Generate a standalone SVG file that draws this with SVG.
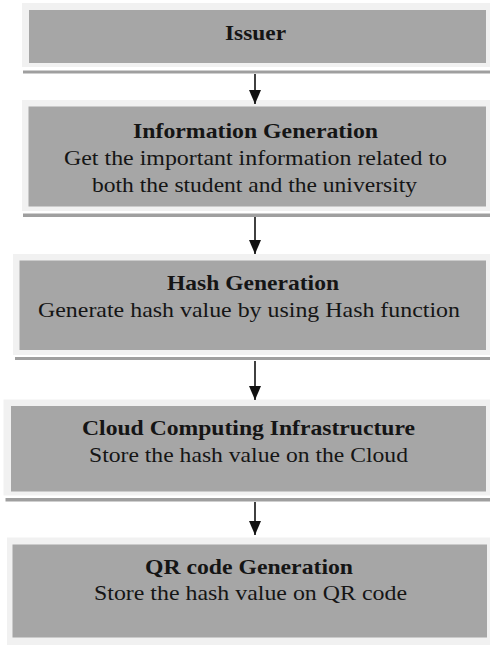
<svg xmlns="http://www.w3.org/2000/svg" width="490" height="645" viewBox="0 0 490 645">
<defs>
<marker id="ah" viewBox="0 0 14 12" markerWidth="14" markerHeight="12" refX="14" refY="6" orient="auto" markerUnits="userSpaceOnUse">
<path d="M0,0 L14,6 L0,12 z" fill="#111"/>
</marker>
</defs>
<style>
.outer{fill:#f1f1f1}
.inner{fill:#a6a6a6}
.shadow{fill:#9f9f9f}
.t{font-family:"Liberation Serif","Times New Roman",serif;font-size:21px;fill:#151515}
.b{font-weight:bold}
.conn{stroke:#111;stroke-width:1.6;fill:none;marker-end:url(#ah)}
</style>
<rect width="490" height="645" fill="#ffffff"/>
<g id="issuer">
<rect class="shadow" x="23" y="70.5" width="467" height="3"/>
<rect class="outer" x="22" y="3" width="468" height="64"/>
<rect class="inner" x="29" y="10" width="457" height="53"/>
<text class="t b" x="225" y="40" textLength="61" lengthAdjust="spacingAndGlyphs">Issuer</text>
</g>
<g id="info-gen">
<rect class="shadow" x="23" y="213.5" width="467" height="3.5"/>
<rect class="outer" x="22" y="100" width="468" height="111"/>
<rect class="inner" x="28.5" y="106.5" width="457.5" height="100"/>
<text class="t b" x="133" y="138" textLength="245" lengthAdjust="spacingAndGlyphs">Information Generation</text>
<text class="t" x="64" y="165" textLength="383" lengthAdjust="spacingAndGlyphs">Get the important information related to</text>
<text class="t" x="92" y="191.5" textLength="325" lengthAdjust="spacingAndGlyphs">both the student and the university</text>
</g>
<g id="hash-gen">
<rect class="shadow" x="15" y="357" width="475" height="3"/>
<rect class="outer" x="13" y="254" width="477" height="101"/>
<rect class="inner" x="19.5" y="260.5" width="466.5" height="89.5"/>
<text class="t b" x="167" y="290" textLength="172" lengthAdjust="spacingAndGlyphs">Hash Generation</text>
<text class="t" x="38" y="317" textLength="422" lengthAdjust="spacingAndGlyphs">Generate hash value by using Hash function</text>
</g>
<g id="cloud">
<rect class="shadow" x="5.5" y="498" width="484.5" height="3.5"/>
<rect class="outer" x="3.5" y="399.5" width="486.5" height="96"/>
<rect class="inner" x="11" y="406" width="475" height="85.5"/>
<text class="t b" x="82" y="435" textLength="333" lengthAdjust="spacingAndGlyphs">Cloud Computing Infrastructure</text>
<text class="t" x="89" y="461.5" textLength="319" lengthAdjust="spacingAndGlyphs">Store the hash value on the Cloud</text>
</g>
<g id="qr-gen">
<rect class="outer" x="7" y="537.5" width="483" height="107.5"/>
<rect class="inner" x="12.5" y="544.5" width="474.5" height="93"/>
<text class="t b" x="145" y="573.5" textLength="208" lengthAdjust="spacingAndGlyphs">QR code Generation</text>
<text class="t" x="94" y="599.5" textLength="313" lengthAdjust="spacingAndGlyphs">Store the hash value on QR code</text>
</g>
<g id="connectors">
<line class="conn" x1="255" y1="74" x2="255" y2="104"/>
<line class="conn" x1="255" y1="217" x2="255" y2="254"/>
<line class="conn" x1="255" y1="361" x2="255" y2="400"/>
<line class="conn" x1="255" y1="502" x2="255" y2="535"/>
</g>
</svg>
